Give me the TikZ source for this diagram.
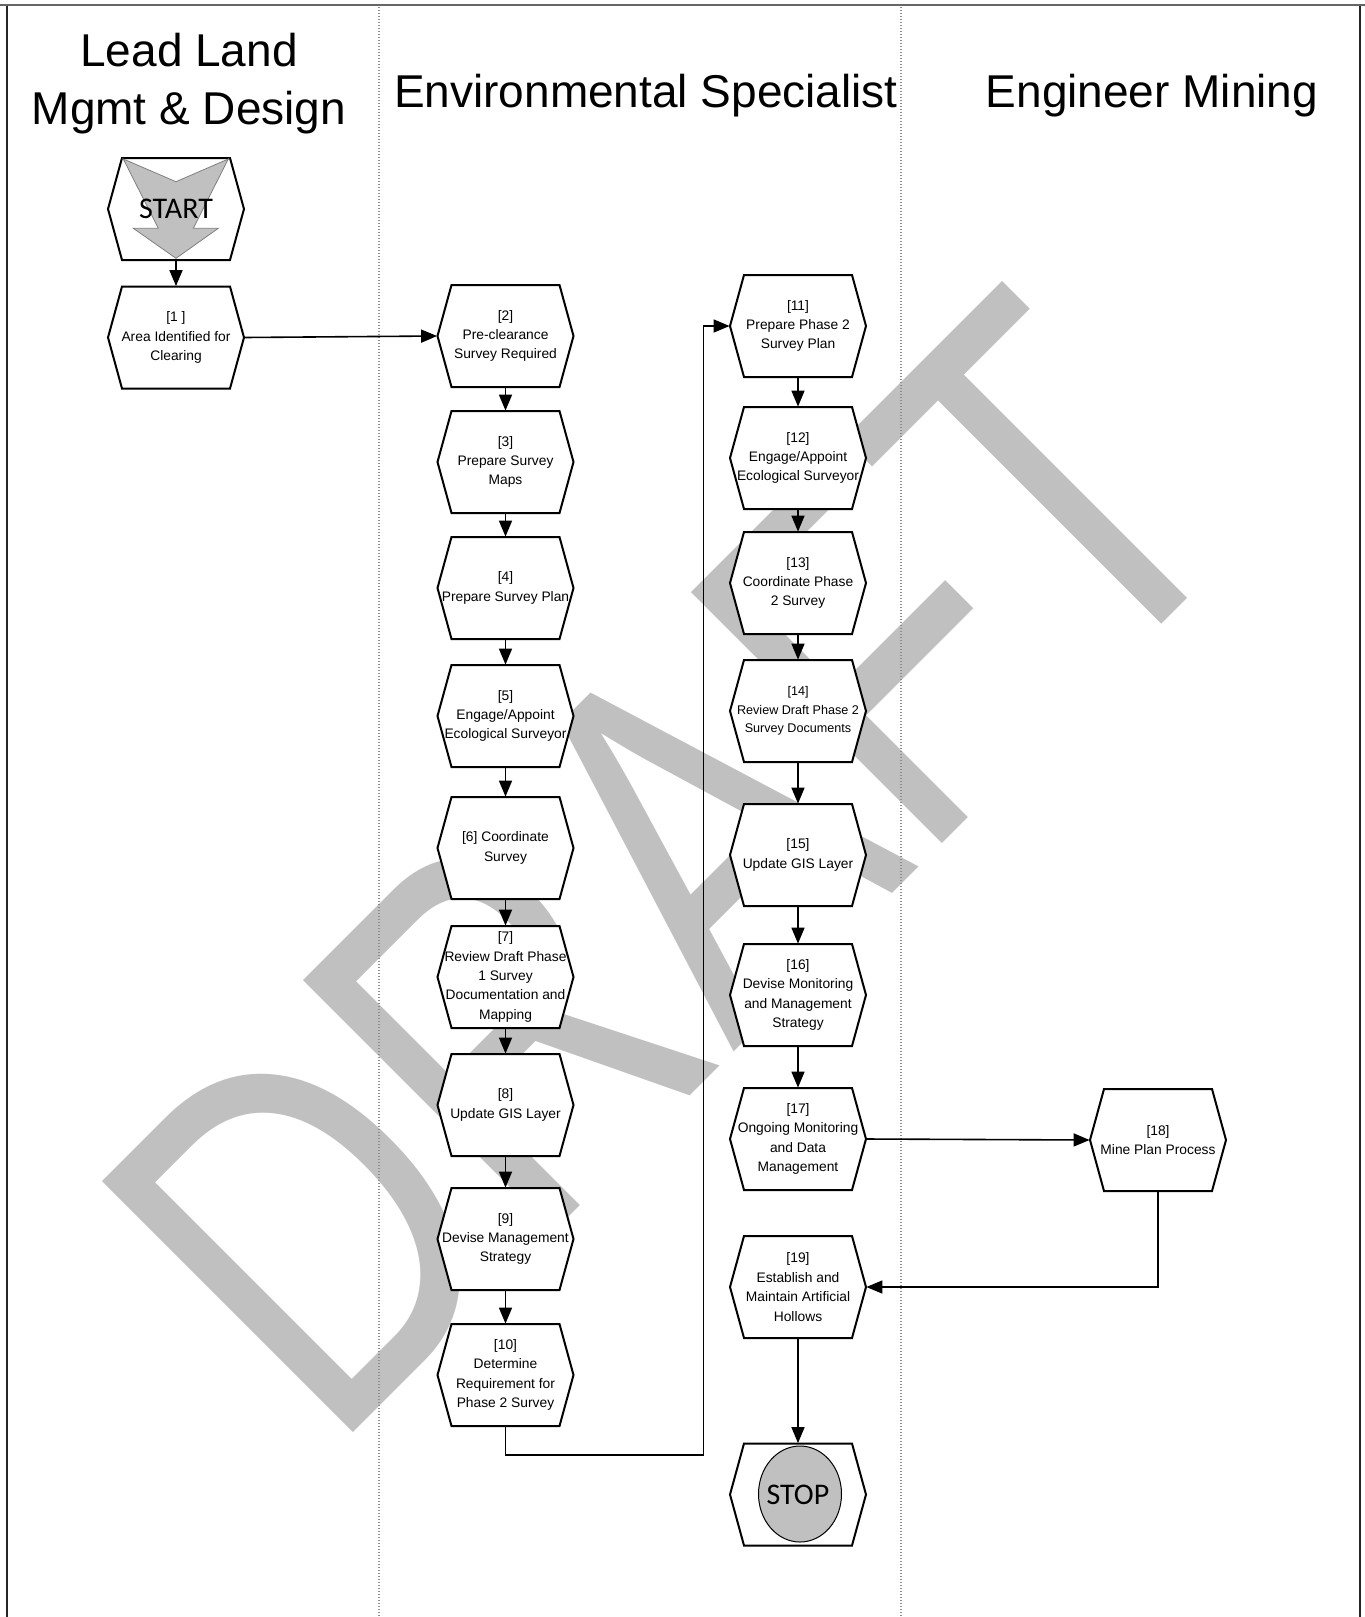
\documentclass[tikz,border=0pt]{standalone}
\usepackage{fontspec}
\setmainfont{Liberation Sans}
\newfontfamily\calfont{Carlito}
\usetikzlibrary{arrows.meta,calc}
\definecolor{wm}{RGB}{192,192,192}
\definecolor{startgray}{RGB}{192,192,192}
\newcommand{\hexpath}[1]{\draw[hexline] ($(#1)+(-54,-51)$) -- ($(#1)+(54,-51)$) -- ($(#1)+(68,0)$) -- ($(#1)+(54,51)$) -- ($(#1)+(-54,51)$) -- ($(#1)+(-68,0)$) -- cycle;}
\newcommand{\hexnode}[3]{\hexpath{#2}\node[hexbox] (#1) at (#2) {#3};}
\begin{document}
\begin{tikzpicture}[x=0.5pt,y=-0.5pt,
  hexline/.style={draw=black,fill=white,line width=1pt,line join=miter},
  hexbox/.style={rectangle,minimum width=68pt,minimum height=51pt,inner sep=0pt,align=center,font=\fontsize{6.9}{9.7}\selectfont},
  smalltext/.style={font=\fontsize{6.3}{9.3}\selectfont},
  conn/.style={draw=black,line width=0.8pt,-{Triangle[length=8pt,width=6.5pt]}},
  lane/.style={draw=black!45,line width=0.6pt,dash pattern=on 0.6pt off 0.9pt},
  header/.style={font=\fontsize{23}{29}\selectfont,align=center,inner sep=0pt},
  bigword/.style={font=\calfont\fontsize{15}{18}\selectfont},
]
\useasboundingbox (0,0) rectangle (1365,1617);
% watermark
\node[font=\fontsize{258}{258}\selectfont,text=wm,rotate=45,xscale=0.765,anchor=base west,inner sep=0pt] (wmark) at (330,1456) {DRAFT};
% frame and lanes
\draw[draw=black!60,line width=1pt] (0,5) -- (1365,5);
\draw[draw=black!85,line width=1pt] (7,6) -- (7,1617);
\draw[draw=black!85,line width=1pt] (1360,6) -- (1360,1617);
\draw[lane] (379,7) -- (379,1617);
\draw[lane] (901,7) -- (901,1617);
% headers
\node[header,anchor=base] (h1a) at (189,66) {Lead Land};
\node[header,anchor=base] (h1b) at (189,124) {Mgmt \& Design};
\node[header,anchor=base] (h2) at (646,107) {Environmental Specialist};
\node[header,anchor=base] (h3) at (1152,107) {Engineer Mining};
% start
\hexpath{176,209}
\draw[fill=startgray,draw=black!50,line width=0.4pt] (123.3,159) -- (158.3,228.3) -- (133.3,228.3) -- (176,258.3) -- (218.3,228.3) -- (193.3,228.3) -- (228.3,159) -- (176,181.7) -- cycle;
\node[hexbox,bigword] (start) at (176,209) {START};
% lane 1
\hexnode{n1}{176,337.5}{[1 ]\\Area Identified for\\Clearing}
% lane 2
\hexnode{n2}{505.5,336}{[2]\\Pre-clearance\\Survey Required}
\hexnode{n3}{505.5,462}{[3]\\Prepare Survey\\Maps}
\hexnode{n4}{505.5,588}{[4]\\Prepare Survey Plan}
\hexnode{n5}{505.5,716}{[5]\\Engage/Appoint\\Ecological Surveyor}
\hexnode{n6}{505.5,848}{[6] Coordinate\\Survey}
\hexnode{n7}{505.5,977}{[7]\\Review Draft Phase\\1 Survey\\Documentation and\\Mapping}
\hexnode{n8}{505.5,1105}{[8]\\Update GIS Layer}
\hexnode{n9}{505.5,1239}{[9]\\Devise Management\\Strategy}
\hexnode{n10}{505.5,1375}{[10]\\Determine\\Requirement for\\Phase 2 Survey}
% lane 2b
\hexnode{n11}{798,326}{[11]\\Prepare Phase 2\\Survey Plan}
\hexnode{n12}{798,458}{[12]\\Engage/Appoint\\Ecological Surveyor}
\hexnode{n13}{798,583}{[13]\\Coordinate Phase\\2 Survey}
\hexpath{798,711}
\node[hexbox,smalltext] (n14) at (798,711) {[14]\\Review Draft Phase 2\\Survey Documents};
\hexnode{n15}{798,855}{[15]\\Update GIS Layer}
\hexnode{n16}{798,995}{[16]\\Devise Monitoring\\and Management\\Strategy}
\hexnode{n17}{798,1139}{[17]\\Ongoing Monitoring\\and Data\\Management}
\hexnode{n19}{798,1287}{[19]\\Establish and\\Maintain Artificial\\Hollows}
% stop
\hexpath{798,1494.5}
\draw[fill=startgray,draw=black,line width=0.5pt] (800,1494) ellipse [x radius=41.5,y radius=48];
\node[hexbox,bigword] (stop) at (798,1494.5) {STOP};
% lane 3
\hexnode{n18}{1158,1140}{[18]\\Mine Plan Process}
% connectors
\coordinate (k1) at (703.5,1455);
\draw[conn] (start) -- (n1);
\draw[conn] (n1.east) -- (n2.west);
\draw[conn] (n2) -- (n3);
\draw[conn] (n3) -- (n4);
\draw[conn] (n4) -- (n5);
\draw[conn] (n5) -- (n6);
\draw[conn] (n6) -- (n7);
\draw[conn] (n7) -- (n8);
\draw[conn] (n8) -- (n9);
\draw[conn] (n9) -- (n10);
\draw[conn] (n10.south) |- (k1) |- (n11.west);
\draw[conn] (n11) -- (n12);
\draw[conn] (n12) -- (n13);
\draw[conn] (n13) -- (n14);
\draw[conn] (n14) -- (n15);
\draw[conn] (n15) -- (n16);
\draw[conn] (n16) -- (n17);
\draw[conn] (n17.east) -- (n18.west);
\draw[conn] (n18.south) |- (n19.east);
\draw[conn] (n19) -- (stop);
\end{tikzpicture}
\end{document}
